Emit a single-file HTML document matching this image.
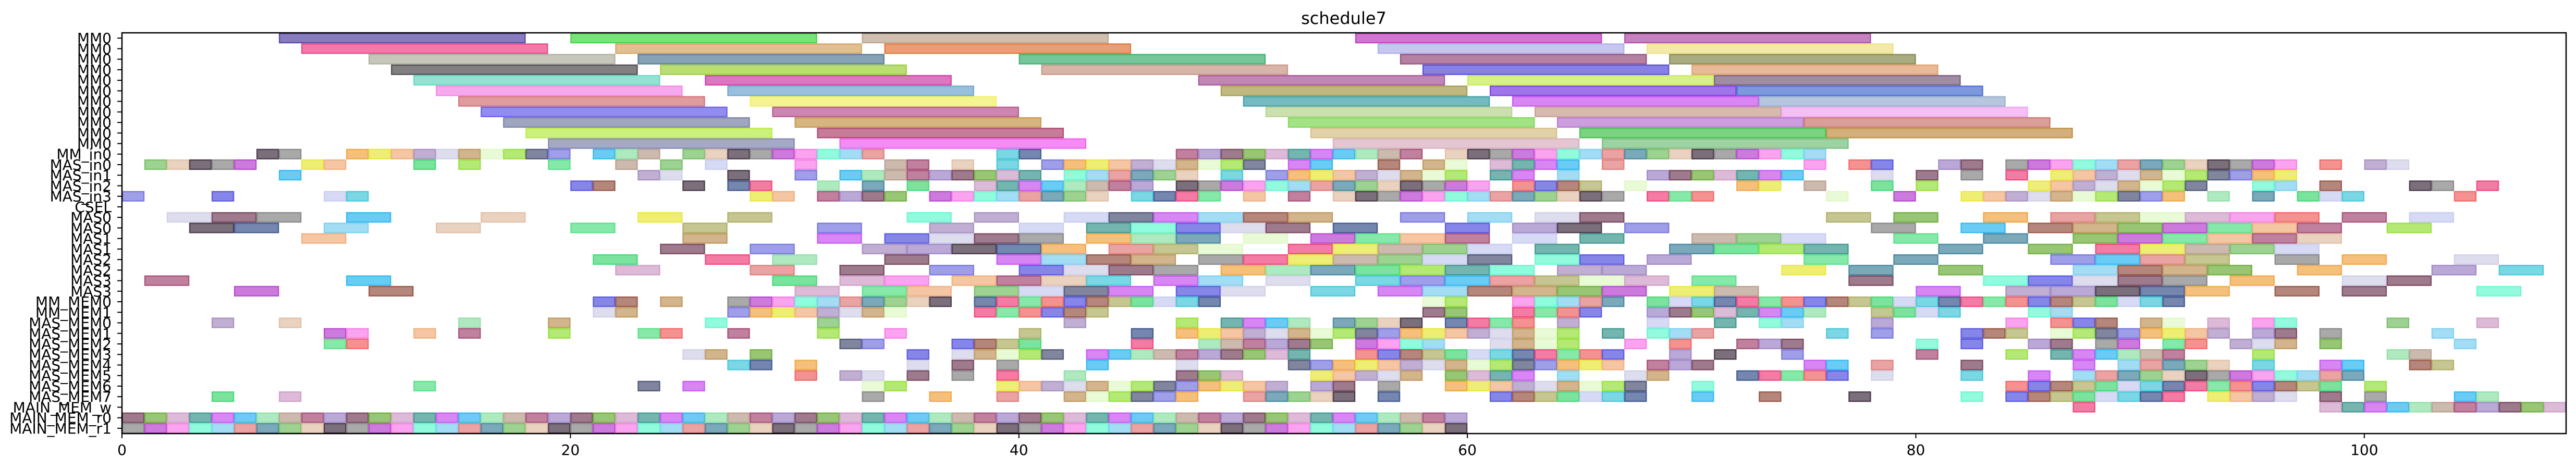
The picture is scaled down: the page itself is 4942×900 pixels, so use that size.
<!DOCTYPE html>
<html><head><meta charset="utf-8"><title>schedule7</title>
<style>
html,body{margin:0;padding:0;background:#fff;}
svg{display:block;font-family:"DejaVu Sans","Liberation Sans",sans-serif;}
</style></head>
<body>
<svg id="chart" width="4942" height="900" viewBox="0 0 4942 900" xmlns="http://www.w3.org/2000/svg">
<text x="2578" y="46" font-size="32" text-anchor="middle" fill="#000">schedule7</text>
<g id="bars"></g>
<g id="yaxis"></g>
<g id="xaxis"></g>
<rect x="234" y="63" width="4689" height="769" fill="none" stroke="#000" stroke-width="2.5"/>
</svg>
<script>
// ---- data ----
const rowLabels = ["MM0","MM0","MM0","MM0","MM0","MM0","MM0","MM0","MM0","MM0","MM0",
 "MM_in0","MAS_in0","MAS_in1","MAS_in2","MAS_in3","CSEL",
 "MAS0","MAS0","MAS1","MAS1","MAS2","MAS2","MAS3","MAS3",
 "MM_MEM0","MM_MEM1",
 "MAS_MEM0","MAS_MEM1","MAS_MEM2","MAS_MEM3","MAS_MEM4","MAS_MEM5","MAS_MEM6","MAS_MEM7",
 "MAIN_MEM_w","MAIN_MEM_r0","MAIN_MEM_r1"];
const xTicks = [0,20,40,60,80,100];
const xMax = 109;
function range(a,b){const r=[];for(let i=a;i<=b;i++)r.push(i);return r;}
const rowDurations = [11,11,11,11,11,11,11,11,11,11,11, 1,1,1,1,1,1, 2,2,2,2,2,2,2,2, 1,1, 1,1,1,1,1,1,1,1, 1,1,1];
const rowStarts = [
 [7,20,33,55,67],
 [8,22,34,56,68],
 [11,23,40,57,69],
 [12,24,41,58,70],
 [13,26,48,60,71],
 [14,27,49,61,72],
 [15,28,50,62,73],
 [16,29,51,63,74],
 [17,30,52,64,75],
 [18,31,53,65,76],
 [19,32,54,66],
 [6,7,10,11,12,13,14,15,16,17,18,19,21,22,23,25,26,27,28,29,30,31,32,33,39,40,47,48,49,50,51,52,53,54,55,56,57].concat(range(59,75)),
 [1,2,3,4,5,8,9,13,15,19,22,24,26,30,34,35,37,39,41,42,43,44,45,46,47,48,49,50,52,53,56,58,59,61,62,63,64,66,75,77,78,81,82].concat(range(84,96),[98,100,101]),
 [7,23,24,27,30,32,33,34,35,36,37,38,39,40,42,43,44,45,46,47,49,51,52,53,54,55,56,57,58,59,61,62,64,68,69,70,71,72,73,74,78,80,82,84].concat(range(86,96)),
 [20,21,25,27,28,31,33,35,38,39,40,41,42,43,44,45,47,48,49,50,51,52,53,54,55,56,57,58,59,60,62,63,64,65,67,72,73,75,78,80].concat(range(85,92),[95,96,98,102,103,105]),
 [0,4,9,10,28,29,31,32,33,34,36,37,38,39,40,41,42,43,45,46,47,48,50,52].concat(range(54,66),[68,69,70,76,79],range(82,91),[93,95,97,98,99,104]),
 [],
 [2,4,6,10,16,23,27,35,38,42,44,46,48,50,52,57,60,63,65,76,79,83,86,88,90,92,94,96,99,102],
 [3,5,9,14,20,25,31,36,40,43,45,47,49,51,54,59,62,64,67,78,82,85,87,89,91,93,95,97,101],
 [8,25,31,34,36,38,40,43,45,47,50,53,55,57,59,62,65,70,72,74,79,83,87,89,91,93,95,97],
 [24,28,33,35,37,39,41,44,46,48,52,54,56,58,60,63,69,71,73,75,81,85,88,90,92,94,96],
 [21,26,29,34,39,41,43,45,48,50,52,54,56,58,60,63,65,68,75,79,86,88,90,92,96,99,104],
 [22,28,32,36,40,42,44,46,49,51,53,55,57,59,61,64,66,74,77,81,87,89,91,93,97,103,106],
 [1,10,29,32,34,37,39,41,43,46,48,51,55,57,59,61,63,65,67,70,77,83,85,87,89,91,94,99,101],
 [5,11,30,33,35,38,40,42,44,47,49,53,56,58,60,62,64,66,69,71,80,84,86,88,90,92,96,99,105],
 [21,22,24].concat(range(27,36),range(38,48),[58,59],range(62,66),range(68,91)),
 [21,22].concat(range(27,34),range(38,43),[58,59],range(62,65),range(68,75),range(78,81),[85,86]),
 [4,7,15,19,26,31,42,47,49,50,51,52,54,55,56,57,59,60,61,62,64,68,71,73,74,78,84,86,87,88,90,91,93,95,96,101,105],
 [9,10,13,15,19,23,24,27,31,34,40,45].concat(range(47,64),[66,68,69,70,76,78,82,83,84],range(86,93),[95,96,98,103]),
 [9,10,32,33,37,38,39,40,45,48,49,50,51,52,53,55,56,57,58,61,62,63,64,67,69,72,73,74,80,82,85,86,88,89,91,92,94,95,96,98,104],
 [25,26,28,35,37,38,39,40,41].concat(range(43,52),range(55,66),[69,71,74,80,84],range(86,91),[95,101,102]),
 [27,28,30,35,37,39,43,47,52,53].concat(range(54,66),[68,69,70,75,76,78,82,87,89,90,91,92,93,95,98,99,102,103]),
 [30,32,33,35,37,39,42,47,48,49,53,54,55,56,57,59,60,61,62,64,67,68,72,73,74,75,76,78,82,85].concat(range(87,99)),
 [13,23,25,33,34].concat(range(39,51),[53,54,56],range(59,67),[70],range(84,98),[100]),
 [4,7,33,36,39,42,43,44,45,46,47,50,51,52,53,54,56].concat(range(61,67),[70,73,77,82],range(84,91),[93,94,95,96,98,100,104,105]),
 [87].concat(range(98,108)),
 range(0,59),
 range(0,59)
];
const mmColors = [
 ["#5a48a8","#44d844","#bca690","#c040c0","#b050a8"],
 ["#e84888","#d4a868","#e07840","#b0b0e8","#f0e088"],
 ["#b0b0a0","#587e98","#40b070","#985080","#888a50"],
 ["#504e50","#a0d040","#c89888","#5a50d8","#e0a070"],
 ["#68d8c0","#d040a8","#a85898","#c8ec58","#7c6080"],
 ["#f488e8","#70a8d0","#a89c50","#7c40e0","#4c70d0"],
 ["#d47478","#f0f068","#40a0a8","#c858f0","#98b0d0"],
 ["#6860e8","#b85890","#b8d490","#c8a090","#f0a8f0"],
 ["#7c84a8","#c89850","#80d858","#b878d0","#cc7870"],
 ["#b8ec48","#b04870","#d4c088","#48c050","#c09048"],
 ["#8488b0","#f060f0","#d8b0c0","#78c080"]
];
const palette = ["#b8a090","#a890c0","#985848","#4888a0","#a85078","#d0d0e8","#b0b068","#78c068","#a088c8","#c09860",
 "#48d878","#e0c0a8","#784860","#e0f8c8","#c8ccf0","#483848","#70b040","#98e040","#48c8d8","#888888",
 "#d0a0c8","#505878","#405890","#b848d0","#409890","#7878e0","#f04880","#f880e8","#c858f0","#f0a848",
 "#58e088","#68f8d0","#30b8f0","#e8e840","#f06868","#80d0f0","#90e0a8","#f0b080","#5858e0","#e08080"];

// ---- scales ----
const L=234, T=63, R=4923, B=832;
const nRows = rowLabels.length;
const rowH = (B-T)/nRows;
function xs(t){return L + t*(R-L)/xMax;}
function yc(i){return T + (i+0.5)*rowH;}
const NS="http://www.w3.org/2000/svg";
const barsG=document.getElementById('bars');
rowStarts.forEach((starts,ri)=>{
  const d=rowDurations[ri];
  starts.forEach((s,k)=>{
    const col = ri<11 ? mmColors[ri][k] : palette[(ri*7+s*3+k)%palette.length];
    const r=document.createElementNS(NS,'rect');
    r.setAttribute('x',xs(s)+1);
    r.setAttribute('y',yc(ri)-rowH/2+1.2);
    r.setAttribute('width',Math.max(0,Math.min(xs(s+d),R)-xs(s)-2));
    r.setAttribute('height',rowH-2.4);
    r.setAttribute('fill',col);
    r.setAttribute('fill-opacity','0.72');
    r.setAttribute('stroke',col);
    r.setAttribute('stroke-width','2.4');
    r.setAttribute('stroke-opacity','0.95');
    
    
    barsG.appendChild(r);
  });
});
// y axis
const yG=document.getElementById('yaxis');
rowLabels.forEach((lab,i)=>{
  const tk=document.createElementNS(NS,'line');
  tk.setAttribute('x1',L-9);tk.setAttribute('x2',L);
  tk.setAttribute('y1',yc(i));tk.setAttribute('y2',yc(i));
  tk.setAttribute('stroke','#000');tk.setAttribute('stroke-width','2');
  
  
  yG.appendChild(tk);
  const tx=document.createElementNS(NS,'text');
  tx.setAttribute('x',L-20);tx.setAttribute('y',yc(i)+10);
  tx.setAttribute('font-size','28');tx.setAttribute('text-anchor','end');
  tx.textContent=lab;
  
  
  yG.appendChild(tx);
});
// x axis
const xG=document.getElementById('xaxis');
xTicks.forEach(v=>{
  const tk=document.createElementNS(NS,'line');
  tk.setAttribute('x1',xs(v));tk.setAttribute('x2',xs(v));
  tk.setAttribute('y1',B);tk.setAttribute('y2',B+9);
  tk.setAttribute('stroke','#000');tk.setAttribute('stroke-width','2');
  
  
  xG.appendChild(tk);
  const tx=document.createElementNS(NS,'text');
  tx.setAttribute('x',xs(v));tx.setAttribute('y',B+41);
  tx.setAttribute('font-size','28');tx.setAttribute('text-anchor','middle');
  tx.textContent=String(v);
  
  
  xG.appendChild(tx);
});
</script>
</body></html>
